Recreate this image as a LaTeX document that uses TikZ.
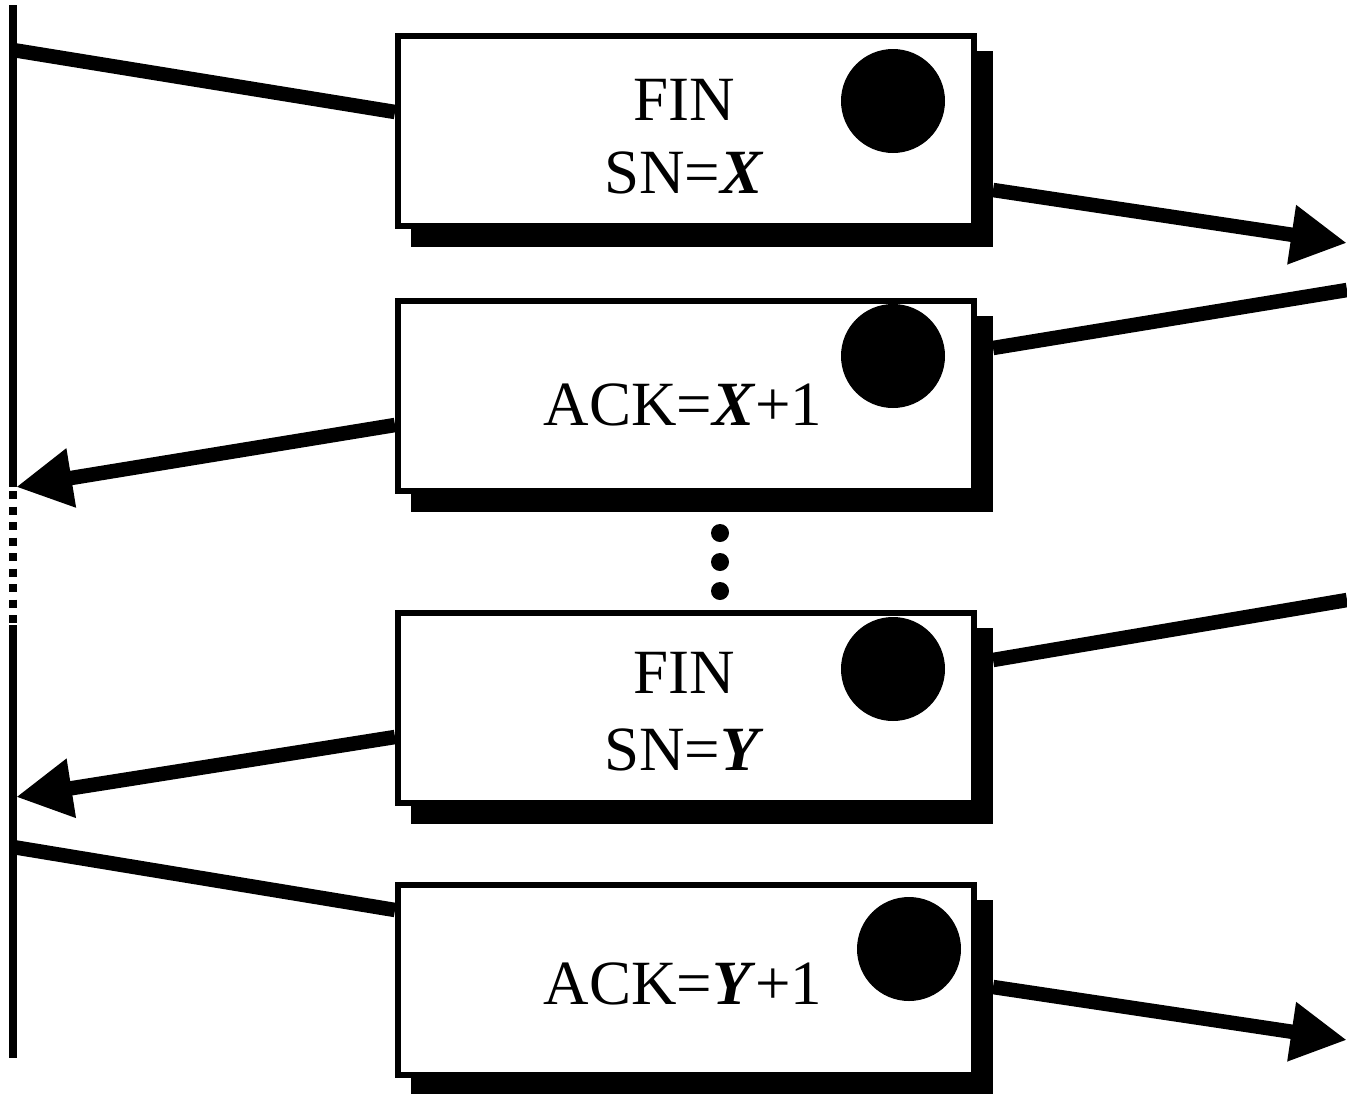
\documentclass[tikz,border=0pt]{standalone}
\usepackage{fontspec}
\setmainfont{Liberation Serif}
\usetikzlibrary{arrows.meta,shadows}
\begin{document}
\begin{tikzpicture}[x=1pt,y=-1pt,
  msgbox/.style={draw,line width=6pt,fill=white,minimum width=576pt,minimum height=190pt,inner sep=0pt,
    general shadow={fill=black,draw=black,line width=6pt,shadow xshift=16pt,shadow yshift=-18pt}},
  lbl/.style={inner sep=0pt,anchor=base,font=\fontsize{63pt}{73pt}\selectfont},
  dotmark/.style={circle,fill=black,inner sep=0pt,minimum size=104pt},
  smalldot/.style={circle,fill=black,inner sep=0pt,minimum size=18pt},
  msg/.style={line width=14.5pt},
  msgarrow/.style={line width=14.5pt,-{Triangle[length=56pt,width=56pt]}},
  lifeline/.style={line width=8pt},
  gapline/.style={line width=8pt,dash pattern=on 8pt off 7.5pt}
]
\useasboundingbox (0,0) rectangle (1347,1093);
\newcommand{\bi}[1]{\textbf{\textit{#1}}}

% lifeline
\coordinate (l0) at (13,5);
\coordinate (l1) at (13,487);
\coordinate (l2) at (13,491);
\coordinate (l3) at (13,624);
\coordinate (l4) at (13,625);
\coordinate (l5) at (13,1058);
\draw[lifeline] (l0) -- (l1);
\draw[gapline] (l2) -- (l3);
\draw[lifeline] (l4) -- (l5);

% boxes
\node[msgbox] (b1) at (686,131) {};
\node[msgbox] (b2) at (686,395.5) {};
\node[msgbox] (b3) at (686,707.5) {};
\node[msgbox] (b4) at (686,979.5) {};

\node[dotmark] (c1) at (893,101) {};
\node[dotmark] (c2) at (893,356) {};
\node[dotmark] (c3) at (893,669) {};
\node[dotmark] (c4) at (909,949) {};

\node[lbl] (t1a) at (684,120) {FIN};
\node[lbl] (t1b) at (684,193) {SN=\bi{X}};
\node[lbl] (t2) at (683,425) {ACK=\bi{X}+1};
\node[lbl] (t3a) at (684,693) {FIN};
\node[lbl] (t3b) at (684,770) {SN=\bi{Y}};
\node[lbl] (t4) at (683,1004) {ACK=\bi{Y}+1};

\node[smalldot] (d1) at (720,533) {};
\node[smalldot] (d2) at (720,562) {};
\node[smalldot] (d3) at (720,591) {};

% endpoints
\coordinate (p1) at (13,50);
\coordinate (q1) at (1347,243);
\coordinate (p2) at (1347,290);
\coordinate (q2) at (16,487);
\coordinate (p3) at (1347,600);
\coordinate (q3) at (16,797);
\coordinate (p4) at (13,847);
\coordinate (q4) at (1347,1040);

\draw[msg] (p1) -- (b1.west |- 0,112);
\draw[msgarrow] (993,190) -- (q1);
\draw[msg] (p2) -- (993,348);
\draw[msgarrow] (b2.west |- 0,425) -- (q2);
\draw[msg] (p3) -- (993,660);
\draw[msgarrow] (b3.west |- 0,737) -- (q3);
\draw[msg] (p4) -- (b4.west |- 0,910);
\draw[msgarrow] (993,987) -- (q4);
\end{tikzpicture}
\end{document}
